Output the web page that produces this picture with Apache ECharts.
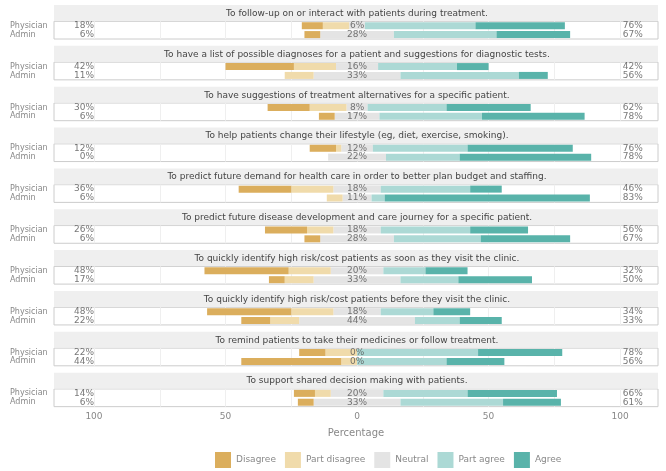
<!DOCTYPE html>
<html>
<head>
<meta charset="utf-8">
<script src="https://cdn.jsdelivr.net/npm/echarts@6/dist/echarts.min.js"></script>
<style>
html, body { margin: 0; padding: 0; background: #fff; }
#chart { width: 666px; height: 471px; }
</style>
</head>
<body>
<div id="chart"></div>
<script>
// questions (one panel each)
var items = [
  'To follow-up on or interact with patients during treatment.',
  'To have a list of possible diagnoses for a patient and suggestions for diagnostic tests.',
  'To have suggestions of treatment alternatives for a specific patient.',
  'To help patients change their lifestyle (eg, diet, exercise, smoking).',
  'To predict future demand for health care in order to better plan budget and staffing.',
  'To predict future disease development and care journey for a specific patient.',
  'To quickly identify high risk/cost patients as soon as they visit the clinic.',
  'To quickly identify high risk/cost patients before they visit the clinic.',
  'To remind patients to take their medicines or follow treatment.',
  'To support shared decision making with patients.'
];
var groups = ['Physician', 'Admin'];
var answers = ['Disagree', 'Part disagree', 'Neutral', 'Part agree', 'Agree'];
var xLabelTicks = [-100, -50, 0, 50, 100];
var xGridTicks = [-100, -75, -50, -25, 0, 25, 50, 75, 100];

// percentages per answer, physicians
var physDisagree    = [8, 26, 16, 10, 20, 16, 32, 32, 10, 8];
var physPartDis     = [10, 16, 14, 2, 16, 10, 16, 16, 12, 6];
var physNeutral     = [6, 16, 8, 12, 18, 18, 20, 18, 0, 20];
var physPartAgree   = [42, 30, 30, 36, 34, 34, 16, 20, 46, 32];
var physAgree       = [34, 12, 32, 40, 12, 22, 16, 14, 32, 34];
// percentages per answer, admin
var admDisagree     = [6, 0, 6, 0, 0, 6, 6, 11, 38, 6];
var admPartDis      = [0, 11, 0, 0, 6, 0, 11, 11, 6, 0];
var admNeutral      = [28, 33, 17, 22, 11, 28, 33, 44, 0, 33];
var admPartAgree    = [39, 45, 39, 28, 5, 33, 22, 17, 34, 39];
var admAgree        = [28, 11, 39, 50, 78, 34, 28, 16, 22, 22];

// printed totals (left / middle / right)
var physLeftPct  = [18, 42, 30, 12, 36, 26, 48, 48, 22, 14];
var physMidPct   = [6, 16, 8, 12, 18, 18, 20, 18, 0, 20];
var physRightPct = [76, 42, 62, 76, 46, 56, 32, 34, 78, 66];
var admLeftPct   = [6, 11, 6, 0, 6, 6, 17, 22, 44, 6];
var admMidPct    = [28, 33, 17, 22, 11, 28, 33, 44, 0, 33];
var admRightPct  = [67, 56, 78, 78, 83, 67, 50, 33, 56, 61];

var colors = ['#dbae5d', '#f0dbab', '#e4e4e4', '#acd9d5', '#59b3aa'];
var font = 'DejaVu Sans';

var chart = echarts.init(document.getElementById('chart'));

var grids = [], xAxes = [], yAxes = [], series = [], graphics = [];
var top0 = 5, pitch = 40.85;

function bar(name, i, vals, color) {
  return {
    type: 'bar', name: name, xAxisIndex: i, yAxisIndex: i, stack: 's' + i,
    barWidth: 7, data: vals, itemStyle: { color: color }, silent: true
  };
}

function pctLabels(i, x, texts, pos) {
  return {
    type: 'scatter', xAxisIndex: i, yAxisIndex: i, symbolSize: 0, silent: true, z: 5,
    data: groups.map(function (g, k) { return [x, g, texts[k]]; }),
    label: {
      show: true, position: pos, distance: 0, fontSize: 9, color: '#555', fontFamily: font,
      formatter: function (p) { return p.value[2] + '%'; }
    }
  };
}

for (var i = 0; i < items.length; i++) {
  var st = top0 + i * pitch;
  var last = i === items.length - 1;

  // strip with the question
  graphics.push({
    type: 'rect', silent: true,
    shape: { x: 54, y: st, width: 604, height: 16 },
    style: { fill: '#efefef' }
  });
  graphics.push({
    type: 'text', silent: true, x: 357, y: st + 8.5,
    style: {
      text: items[i], fill: '#444', font: '9px "DejaVu Sans"',
      align: 'center', verticalAlign: 'middle',
      textAlign: 'center', textVerticalAlign: 'middle'
    }
  });

  grids.push({
    left: 54, right: 8, top: st + 16.3, height: 17.7,
    show: true, backgroundColor: '#fff', borderColor: '#cccccc', borderWidth: 1
  });

  xAxes.push({
    gridIndex: i, type: 'value', min: -115.2, max: 114.4,
    axisLine: { show: false },
    axisTick: { show: false, customValues: xGridTicks },
    splitLine: { show: true, lineStyle: { color: '#efefef', width: 1 } },
    axisLabel: {
      show: last, customValues: xLabelTicks, margin: 6,
      fontSize: 9, color: '#888', fontFamily: font,
      formatter: function (v) { return Math.abs(v); }
    },
    name: last ? 'Percentage' : '', nameLocation: 'middle', nameGap: 22,
    nameTextStyle: { fontSize: 10, color: '#888', fontFamily: font }
  });

  yAxes.push({
    gridIndex: i, type: 'category', data: groups, inverse: true,
    axisLine: { show: false }, axisTick: { show: false }, splitLine: { show: false },
    axisLabel: {
      interval: 0, hideOverlap: false, align: 'left', margin: 44,
      fontSize: 8, color: '#888', fontFamily: font
    }
  });

  // negative side: half of neutral, then part disagree, then disagree
  series.push(bar('Neutral', i, [-physNeutral[i] / 2, -admNeutral[i] / 2], colors[2]));
  series.push(bar('Part disagree', i, [-physPartDis[i], -admPartDis[i]], colors[1]));
  series.push(bar('Disagree', i, [-physDisagree[i], -admDisagree[i]], colors[0]));
  // positive side
  series.push(bar('Neutral', i, [physNeutral[i] / 2, admNeutral[i] / 2], colors[2]));
  series.push(bar('Part agree', i, [physPartAgree[i], admPartAgree[i]], colors[3]));
  series.push(bar('Agree', i, [physAgree[i], admAgree[i]], colors[4]));

  series.push(pctLabels(i, -100, [physLeftPct[i], admLeftPct[i]], 'left'));
  series.push(pctLabels(i, 0, [physMidPct[i], admMidPct[i]], 'inside'));
  series.push(pctLabels(i, 101, [physRightPct[i], admRightPct[i]], 'right'));
}

chart.setOption({
  animation: false,
  color: colors,
  textStyle: { fontFamily: font },
  legend: {
    data: answers, left: 215, top: 452, padding: 0,
    icon: 'rect', itemWidth: 16, itemHeight: 16, itemGap: 9,
    textStyle: { fontSize: 9, color: '#888', fontFamily: font }
  },
  grid: grids,
  xAxis: xAxes,
  yAxis: yAxes,
  series: series,
  graphic: graphics
});
</script>
</body>
</html>
